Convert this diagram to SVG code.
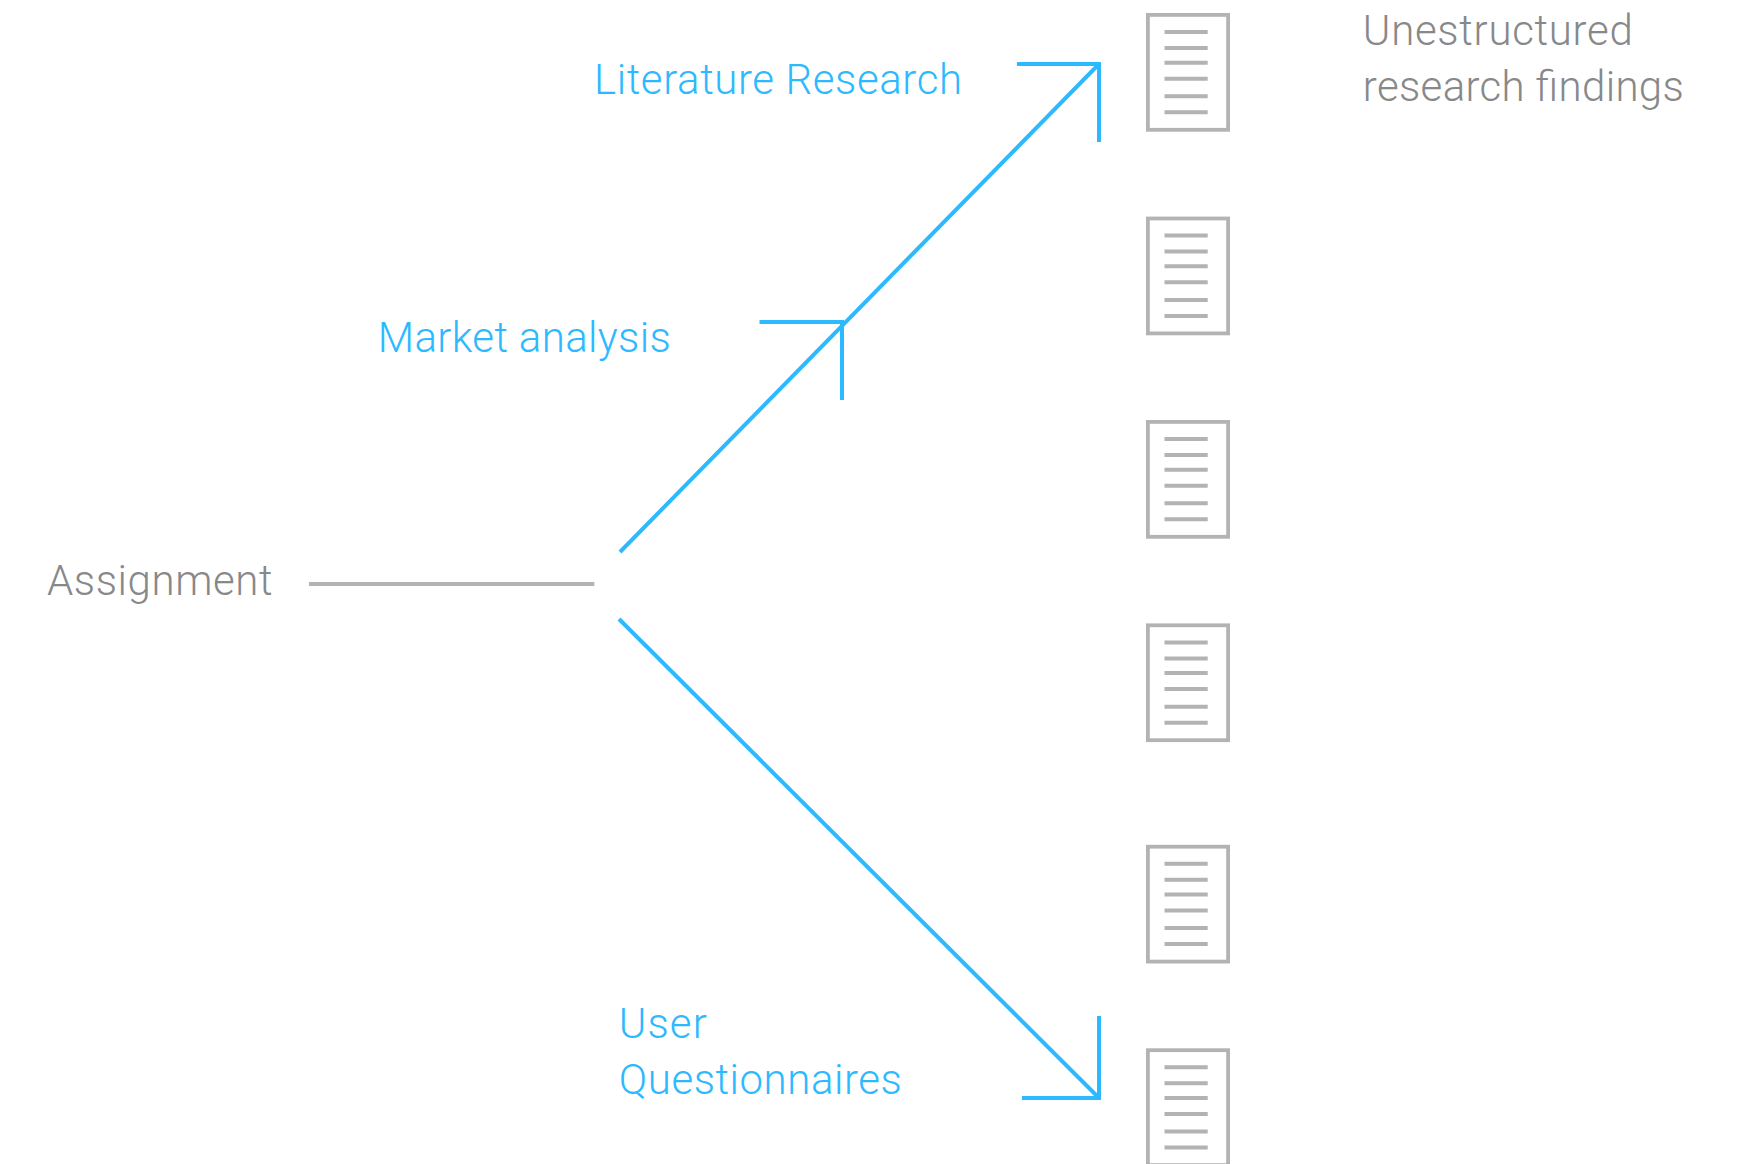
<svg xmlns="http://www.w3.org/2000/svg" width="1737" height="1164" viewBox="0 0 1737 1164">
<style>
.t{font-family:"Roboto","Liberation Sans",sans-serif;font-weight:300;font-size:42px}
.g{fill:#87888a}
.b{fill:#2db9ff}
.bl{stroke:#2db9ff;stroke-width:4;fill:none}
.gl{stroke:#b3b3b3;stroke-width:4;fill:none}
.dr{fill:#fff;stroke:#b3b3b3;stroke-width:3.8}
.dl{stroke:#b3b3b3;stroke-width:4;fill:none}
</style>
<defs>
<g id="doc">
<rect class="dr" x="1.9" y="1.9" width="80.2" height="114.9"/>
<path class="dl" d="M18.5 19H61.7M18.5 35H61.7M18.5 49.7H61.7M18.5 65.7H61.7M18.5 83.3H61.7M18.5 99.3H61.7"/>
</g>
</defs>
<rect width="1737" height="1164" fill="#fff"/>
<g id="connectors">
<path class="gl" d="M309 584H594.3"/>
<path class="bl" d="M620 552L1099 64"/>
<path class="bl" d="M1017 64H1099V142"/>
<path class="bl" d="M759.5 322H842V400"/>
<path class="bl" d="M619 619L1099 1098"/>
<path class="bl" d="M1022 1098H1099V1016"/>
</g>
<g id="doc1"><use href="#doc" x="1146" y="13"/></g>
<g id="doc2"><use href="#doc" x="1146" y="216.6"/></g>
<g id="doc3"><use href="#doc" x="1146" y="420"/></g>
<g id="doc4"><use href="#doc" x="1146" y="623.4"/></g>
<g id="doc5"><use href="#doc" x="1146" y="844.8"/></g>
<g id="doc6"><use href="#doc" x="1146" y="1048.3"/></g>
<g id="assignment"><text class="t g" x="47" y="595" textLength="225.5">Assignment</text></g>
<g id="findings"><text class="t g" x="1362.8" y="45" textLength="270">Unestructured</text><text class="t g" x="1362.8" y="101.2" textLength="321">research findings</text></g>
<g id="literature"><text class="t b" x="594" y="94" textLength="368">Literature Research</text></g>
<g id="market"><text class="t b" x="377.8" y="351.7" textLength="293">Market analysis</text></g>
<g id="user"><text class="t b" x="618.8" y="1038.3" textLength="88">User</text><text class="t b" x="618.8" y="1094.3" textLength="283">Questionnaires</text></g>
</svg>
